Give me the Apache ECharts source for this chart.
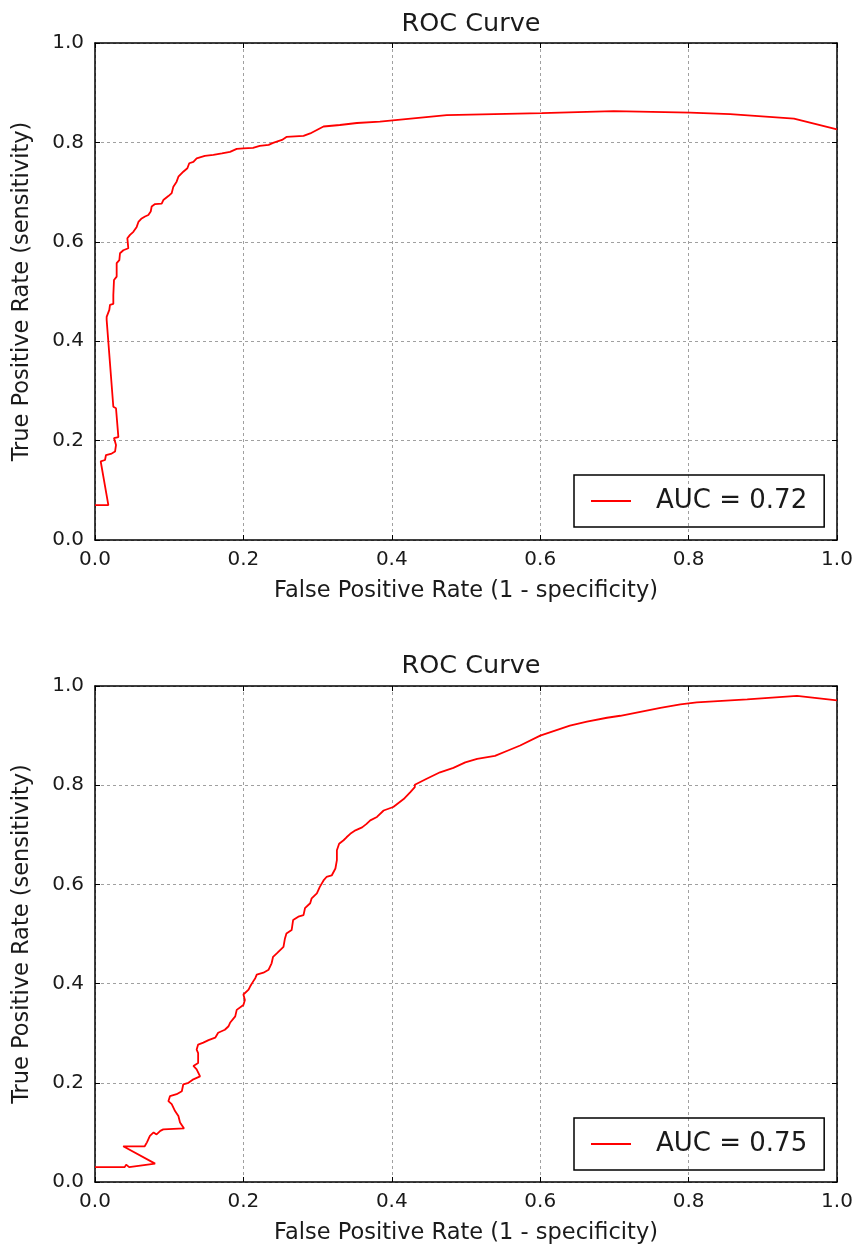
<!DOCTYPE html>
<html><head><meta charset="utf-8">
<script src="https://cdn.jsdelivr.net/npm/echarts@6/dist/echarts.min.js"></script>
<style>html,body{margin:0;padding:0;background:#fff}#c{width:857px;height:1249px}</style>
</head><body><div id="c"></div>
<script>
const chartTitle = 'ROC Curve';
const xName = 'False Positive Rate (1 - specificity)';
const yName = 'True Positive Rate (sensitivity)';
const legend1 = 'AUC = 0.72';
const legend2 = 'AUC = 0.75';

const fpr1 = [0, 0.018, 0.0077, 0.009, 0.0135, 0.0148, 0.0225, 0.027, 0.0283, 0.0256, 0.0315, 0.0283, 0.0247, 0.0157, 0.0157, 0.0193, 0.0202, 0.0247, 0.0247, 0.0256, 0.0292, 0.0292, 0.0328, 0.0337, 0.0382, 0.0449, 0.0436, 0.0472, 0.0517, 0.0562, 0.0585, 0.0629, 0.0674, 0.0719, 0.0751, 0.0764, 0.0809, 0.0899, 0.0921, 0.0989, 0.1034, 0.1056, 0.110, 0.1124, 0.119, 0.1245, 0.127, 0.1326, 0.137, 0.148, 0.1595, 0.171, 0.182, 0.191, 0.200, 0.213, 0.222, 0.234, 0.240, 0.252, 0.258, 0.281, 0.290, 0.299, 0.308, 0.330, 0.353, 0.384, 0.474, 0.602, 0.699, 0.802, 0.856, 0.942, 1.0];
const tpr1 = [0.070, 0.070, 0.158, 0.161, 0.161, 0.171, 0.174, 0.178, 0.191, 0.205, 0.207, 0.265, 0.268, 0.443, 0.449, 0.463, 0.473, 0.475, 0.493, 0.523, 0.530, 0.557, 0.563, 0.577, 0.583, 0.587, 0.607, 0.614, 0.620, 0.630, 0.640, 0.647, 0.651, 0.654, 0.661, 0.671, 0.676, 0.677, 0.684, 0.692, 0.698, 0.711, 0.721, 0.731, 0.741, 0.748, 0.758, 0.761, 0.768, 0.773, 0.775, 0.778, 0.781, 0.787, 0.788, 0.789, 0.793, 0.795, 0.799, 0.805, 0.811, 0.813, 0.818, 0.825, 0.832, 0.835, 0.839, 0.842, 0.855, 0.859, 0.863, 0.860, 0.857, 0.848, 0.826];

const fpr2 = [0, 0.040, 0.042, 0.046, 0.081, 0.038, 0.067, 0.070, 0.074, 0.079, 0.083, 0.088, 0.092, 0.120, 0.1146, 0.1124, 0.1079, 0.1034, 0.0989, 0.101, 0.110, 0.117, 0.119, 0.126, 0.1326, 0.1416, 0.137, 0.1326, 0.139, 0.139, 0.137, 0.139, 0.146, 0.153, 0.162, 0.166, 0.175, 0.180, 0.182, 0.189, 0.191, 0.200, 0.202, 0.200, 0.207, 0.209, 0.213, 0.216, 0.218, 0.227, 0.234, 0.238, 0.240, 0.245, 0.254, 0.256, 0.258, 0.265, 0.267, 0.274, 0.281, 0.283, 0.290, 0.292, 0.299, 0.303, 0.308, 0.312, 0.319, 0.324, 0.326, 0.326, 0.329, 0.335, 0.339, 0.344, 0.351, 0.360, 0.366, 0.371, 0.380, 0.389, 0.402, 0.416, 0.425, 0.431, 0.431, 0.447, 0.465, 0.483, 0.499, 0.515, 0.539, 0.555, 0.573, 0.600, 0.622, 0.640, 0.663, 0.690, 0.708, 0.735, 0.762, 0.789, 0.811, 0.879, 0.946, 1.0];
const tpr2 = [0.030, 0.030, 0.035, 0.030, 0.037, 0.072, 0.072, 0.080, 0.093, 0.100, 0.096, 0.103, 0.106, 0.108, 0.120, 0.133, 0.143, 0.157, 0.163, 0.173, 0.177, 0.183, 0.197, 0.200, 0.207, 0.213, 0.227, 0.234, 0.240, 0.260, 0.267, 0.277, 0.281, 0.286, 0.291, 0.301, 0.307, 0.314, 0.321, 0.334, 0.347, 0.357, 0.367, 0.378, 0.388, 0.394, 0.404, 0.411, 0.418, 0.422, 0.428, 0.441, 0.454, 0.461, 0.474, 0.491, 0.501, 0.508, 0.528, 0.535, 0.538, 0.552, 0.562, 0.572, 0.582, 0.595, 0.608, 0.615, 0.618, 0.632, 0.649, 0.669, 0.682, 0.689, 0.695, 0.702, 0.709, 0.715, 0.722, 0.729, 0.736, 0.749, 0.756, 0.772, 0.786, 0.796, 0.801, 0.813, 0.826, 0.835, 0.846, 0.853, 0.859, 0.869, 0.880, 0.900, 0.911, 0.920, 0.928, 0.936, 0.940, 0.948, 0.956, 0.963, 0.967, 0.973, 0.980, 0.971];

const FONT = 'DejaVu Sans';
const TXT = '#1a1a1a';
const grids = [
  {left: 95, right: 20, top: 43, height: 497},
  {left: 95, right: 20, top: 686, height: 496}
];
const tick = {show: true, inside: true, length: 5, lineStyle: {color: '#000', width: 1}};
const axLine = {show: true, onZero: false, lineStyle: {color: '#000', width: 1.5}};
const grid = {show: true, lineStyle: {color: '#a0a0a0', width: 1, type: [3, 3]}};
const fmt = v => v.toFixed(1);

function xAxes(gi) {
  return [
    {type: 'value', gridIndex: gi, position: 'bottom', min: 0, max: 1, interval: 0.2,
     axisLine: axLine, axisTick: tick, splitLine: grid,
     axisLabel: {formatter: fmt, fontFamily: FONT, fontSize: 20, color: TXT, margin: 10},
     name: xName, nameLocation: 'middle', nameGap: 40,
     nameTextStyle: {fontFamily: FONT, fontSize: 22.5, color: TXT}},
    {type: 'value', gridIndex: gi, position: 'top', min: 0, max: 1, interval: 0.2,
     axisLine: axLine, axisTick: tick, splitLine: {show: false}, axisLabel: {show: false}}
  ];
}
function yAxes(gi) {
  return [
    {type: 'value', gridIndex: gi, position: 'left', min: 0, max: 1, interval: 0.2,
     axisLine: axLine, axisTick: tick, splitLine: grid,
     axisLabel: {formatter: fmt, fontFamily: FONT, fontSize: 20, color: TXT, margin: 11},
     name: yName, nameLocation: 'middle', nameGap: 61,
     nameTextStyle: {fontFamily: FONT, fontSize: 22.5, color: TXT}},
    {type: 'value', gridIndex: gi, position: 'right', min: 0, max: 1, interval: 0.2,
     axisLine: axLine, axisTick: tick, splitLine: {show: false}, axisLabel: {show: false}}
  ];
}
function legendCfg(name, top) {
  return {
    data: [name], left: 574, top: top, orient: 'vertical',
    icon: 'rect', itemWidth: 40, itemHeight: 2,
    borderColor: '#000', borderWidth: 1.5, borderRadius: 0,
    padding: [13, 17, 13, 17],
    textStyle: {fontFamily: FONT, fontSize: 26, color: TXT, padding: [0, 0, 0, 20], lineHeight: 26}
  };
}

const chart = echarts.init(document.getElementById('c'), null, {renderer: 'canvas'});
chart.setOption({
  animation: false,
  backgroundColor: '#fff',
  title: [
    {text: chartTitle, left: 466, top: 6, textAlign: 'center', textStyle: {fontFamily: FONT, fontSize: 25.5, fontWeight: 'normal', color: TXT}},
    {text: chartTitle, left: 466, top: 648, textAlign: 'center', textStyle: {fontFamily: FONT, fontSize: 25.5, fontWeight: 'normal', color: TXT}}
  ],
  grid: grids,
  xAxis: [...xAxes(0), ...xAxes(1)],
  yAxis: [...yAxes(0), ...yAxes(1)],
  legend: [legendCfg(legend1, 475), legendCfg(legend2, 1118)],
  series: [
    {name: legend1, type: 'line', xAxisIndex: 0, yAxisIndex: 0, showSymbol: false,
     lineStyle: {color: '#ff0000', width: 1.8}, itemStyle: {color: '#ff0000'},
     data: fpr1.map((x, i) => [x, tpr1[i]])},
    {name: legend2, type: 'line', xAxisIndex: 2, yAxisIndex: 2, showSymbol: false,
     lineStyle: {color: '#ff0000', width: 1.8}, itemStyle: {color: '#ff0000'},
     data: fpr2.map((x, i) => [x, tpr2[i]])}
  ]
});
</script></body></html>
